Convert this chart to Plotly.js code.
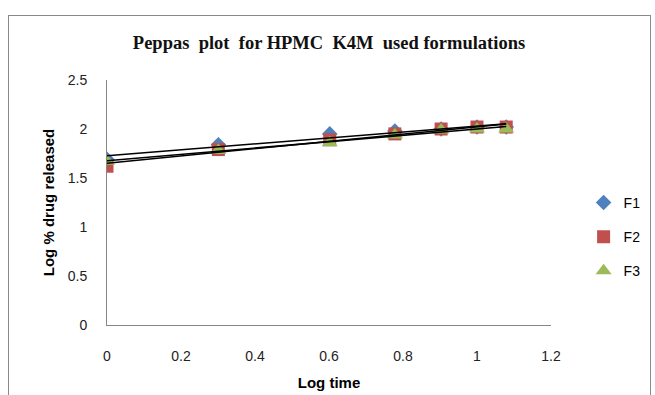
<!DOCTYPE html>
<html>
<head>
<meta charset="utf-8">
<script src="https://cdn.plot.ly/plotly-3.0.1.min.js"></script>
<style>
html,body{margin:0;padding:0;background:#fff;}
#wrap{position:relative;width:655px;height:395px;overflow:hidden;}
#chart{position:absolute;left:0;top:0;width:655px;height:395px;}
#frame{position:absolute;left:8px;top:15px;width:641px;height:400px;border:1px solid #898989;pointer-events:none;}
</style>
</head>
<body>
<div id="wrap"><div id="chart"></div><div id="frame"></div></div>
<script>
var logTime = [0, 0.301, 0.602, 0.778, 0.903, 1.0, 1.079];
var F1 = [1.69, 1.84, 1.95, 1.98, 2.00, 2.02, 2.02];
var F2 = [1.62, 1.79, 1.89, 1.95, 2.00, 2.02, 2.02];
var F3 = [1.67, 1.78, 1.86, 1.94, 1.99, 2.00, 2.00];
var seriesNames = ['F1', 'F2', 'F3'];
var seriesColors = ['#4F81BD', '#C0504D', '#9BBB59'];
var seriesSymbols = ['diamond', 'square', 'triangle-up'];
var seriesSizes = [12, 13, 14];
var seriesData = [F1, F2, F3];

function fit(x, y) {
  var n = x.length, mx = 0, my = 0;
  for (var i = 0; i < n; i++) { mx += x[i]; my += y[i]; }
  mx /= n; my /= n;
  var sxy = 0, sxx = 0;
  for (var j = 0; j < n; j++) { sxy += (x[j]-mx)*(y[j]-my); sxx += (x[j]-mx)*(x[j]-mx); }
  var b = sxy / sxx, a = my - b*mx;
  var x0 = x[0], x1 = x[n-1];
  return {x: [x0, x1], y: [a + b*x0, a + b*x1]};
}

var traces = [];
seriesData.forEach(function(d, i) {
  traces.push({
    x: logTime, y: d, type: 'scatter', mode: 'markers', name: seriesNames[i],
    legendgroup: seriesNames[i],
    marker: {symbol: seriesSymbols[i], size: seriesSizes[i], color: seriesColors[i]}
  });
});
seriesData.forEach(function(d, i) {
  var f = fit(logTime, d);
  traces.push({
    x: f.x, y: f.y, type: 'scatter', mode: 'lines', showlegend: false,
    line: {color: '#000000', width: 1.5}, hoverinfo: 'skip'
  });
});

var layout = {
  width: 655, height: 395,
  margin: {l: 107, r: 104, t: 80, b: 70},
  paper_bgcolor: 'rgba(0,0,0,0)', plot_bgcolor: 'rgba(0,0,0,0)',
  font: {family: 'Liberation Sans, Arial, sans-serif', size: 14, color: '#000'},
  title: {
    text: '<b>Peppas&nbsp; plot&nbsp; for HPMC&nbsp; K4M&nbsp; used formulations</b>',
    font: {family: 'Liberation Serif, Times New Roman, serif', size: 18.5, color: '#111'},
    x: 0.5, xref: 'paper', xanchor: 'center', y: 0.892, yref: 'container', yanchor: 'middle'
  },
  xaxis: {
    range: [0, 1.2], dtick: 0.2, tick0: 0, showgrid: false, zeroline: false,
    showline: true, linecolor: '#868686', linewidth: 1,
    ticks: 'outside', ticklen: 18, tickcolor: 'rgba(0,0,0,0)',
    tickfont: {size: 14, color: '#222'},
    title: {text: '<b>Log time</b>', font: {size: 15, color: '#000'}, standoff: 14}
  },
  yaxis: {
    range: [0, 2.5], dtick: 0.5, tick0: 0, showgrid: false, zeroline: false,
    showline: true, linecolor: '#868686', linewidth: 1,
    ticks: 'outside', ticklen: 16, tickcolor: 'rgba(0,0,0,0)',
    tickfont: {size: 14, color: '#222'},
    title: {text: '<b>Log % drug released</b>', font: {size: 15, color: '#000'}, standoff: 9}
  },
  legend: {
    xref: 'container', yref: 'container',
    x: 0.891, xanchor: 'left', y: 0.527, yanchor: 'top',
    traceorder: 'grouped', tracegroupgap: 13,
    font: {size: 14, color: '#000'}, bgcolor: 'rgba(0,0,0,0)',
    itemwidth: 30
  },
  showlegend: true
};

Plotly.newPlot('chart', traces, layout, {displayModeBar: false, staticPlot: true});
</script>
</body>
</html>
